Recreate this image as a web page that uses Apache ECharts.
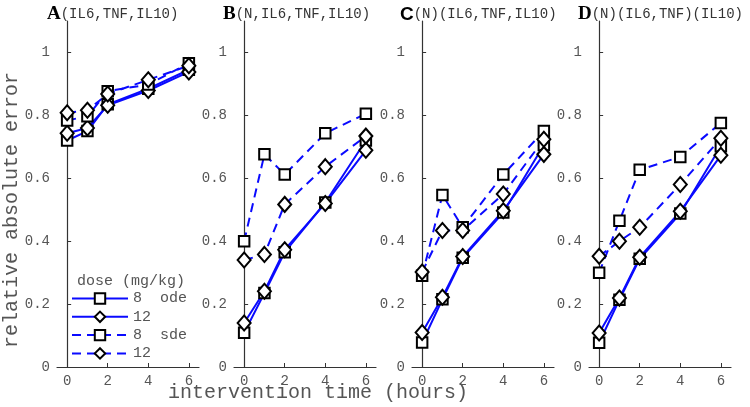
<!DOCTYPE html>
<html><head><meta charset="utf-8">
<script src="https://cdn.jsdelivr.net/npm/echarts@6/dist/echarts.min.js"></script>
<style>html,body{margin:0;padding:0;background:#fff}#c{width:750px;height:407px}</style>
</head><body><div id="c"></div>
<script>
var times = [0, 1, 2, 4, 6];
var panelLetters = ['A', 'B', 'C', 'D'];
var panelTitles = ['(IL6,TNF,IL10)', '(N,IL6,TNF,IL10)', '(N)(IL6,TNF,IL10)', '(N)(IL6,TNF)(IL10)'];
var xTicks = [0, 2, 4, 6];
var yTicks = [0, 0.2, 0.4, 0.6, 0.8, 1];
// per panel: ode 8, ode 12, sde 8, sde 12
var ode8  = [[0.72,0.75,0.835,0.885,0.945],[0.109,0.235,0.365,0.523,0.72],[0.078,0.215,0.347,0.491,0.706],[0.077,0.214,0.344,0.488,0.702]];
var ode12 = [[0.743,0.76,0.832,0.879,0.938],[0.14,0.241,0.373,0.52,0.689],[0.11,0.222,0.351,0.497,0.676],[0.108,0.219,0.349,0.495,0.673]];
var sde8  = [[0.784,0.797,0.877,0.898,0.966],[0.40,0.676,0.612,0.743,0.805],[0.29,0.547,0.444,0.612,0.75],[0.30,0.465,0.627,0.668,0.776]];
var sde12 = [[0.808,0.816,0.868,0.913,0.958],[0.34,0.358,0.517,0.637,0.734],[0.302,0.434,0.434,0.55,0.724],[0.352,0.40,0.444,0.58,0.727]];
var legendNames = {ode8: '8  ode', ode12: '12', sde8: '8  sde', sde12: '12'};

var mono = 'Liberation Mono';
var lefts = [57, 234, 412, 589];
var titleLefts = [42, 218, 395, 573];
var grids = [], xAxes = [], yAxes = [], series = [], titles = [];
var blue = '#0a0aff';
function pairs(arr){ return times.map(function(t,i){ return [t, arr[i]]; }); }
var defs = [
  {key:'ode8', data:ode8, sym:'rect', size:10.5, dash:'solid'},
  {key:'ode12', data:ode12, sym:'diamond', size:[13,15], dash:'solid'},
  {key:'sde8', data:sde8, sym:'rect', size:10.5, dash:[9,6]},
  {key:'sde12', data:sde12, sym:'diamond', size:[13,15], dash:[9,6]}
];
for (var p = 0; p < 4; p++) {
  grids.push({left: lefts[p], top: 21, width: 142, height: 346});
  xAxes.push({type:'value', gridIndex:p, min:-0.5, max:6.5,
    axisLine:{show:true, lineStyle:{color:'#333', width:1.2}},
    axisTick:{show:true, inside:true, length:4, customValues:xTicks, lineStyle:{color:'#333'}},
    axisLabel:{customValues:xTicks, color:'#555', fontFamily:mono, fontSize:14, margin:7},
    splitLine:{show:false}});
  yAxes.push({type:'value', gridIndex:p, min:0, max:1.1,
    axisLine:{show:true, lineStyle:{color:'#333', width:1.2}},
    axisTick:{show:true, inside:true, length:4, customValues:yTicks, lineStyle:{color:'#333'}},
    axisLabel:{customValues:yTicks, color:'#555', fontFamily:mono, fontSize:14, margin:7,
      formatter:function(v){ return String(Math.round(v*10)/10); }},
    splitLine:{show:false}});
  titles.push({left: titleLefts[p], top: 0,
    text: '{b|' + panelLetters[p] + '}{m|' + panelTitles[p] + '}',
    textStyle:{fontWeight:'normal', rich:{
      b:{fontFamily: p===2 ? 'Liberation Sans' : 'Liberation Serif', fontWeight:'bold', fontSize:19, color:'#000'},
      m:{fontFamily:mono, fontWeight:'normal', fontSize:14, color:'#333'}}}});
  defs.forEach(function(d){
    series.push({type:'line', name:d.key, xAxisIndex:p, yAxisIndex:p,
      data: pairs(d.data[p]), symbol:d.sym, symbolSize:d.size, showAllSymbol:true,
      lineStyle:{color:blue, width:2, type:d.dash},
      itemStyle:{color:'#fff', borderColor:'#000', borderWidth:2},
      emphasis:{disabled:true}, animation:false});
  });
}
var chart = echarts.init(document.getElementById('c'));
chart.setOption({
  animation:false,
  title: titles,
  grid: grids, xAxis: xAxes, yAxis: yAxes, series: series,
  legend: {orient:'vertical', left:71, top:291, itemWidth:56, itemHeight:13, itemGap:3.3,
    data:['ode8','ode12','sde8','sde12'], selectedMode:false,
    formatter:function(n){ return legendNames[n]; },
    textStyle:{fontFamily:mono, fontSize:15, color:'#555', padding:[0,0,0,0]}, padding:0},
  graphic: [
    {type:'text', left:77, top:274, style:{text:'dose (mg/kg)', font:'15px "Liberation Mono"', fill:'#555'}},
    {type:'text', x:12, y:210, rotation:Math.PI/2, style:{text:'relative absolute error', font:'20px "Liberation Mono"', fill:'#555', align:'center', verticalAlign:'middle'}},
    {type:'text', x:318, y:393, style:{text:'intervention time (hours)', font:'20px "Liberation Mono"', fill:'#555', align:'center', verticalAlign:'middle'}}
  ]
});
</script></body></html>
